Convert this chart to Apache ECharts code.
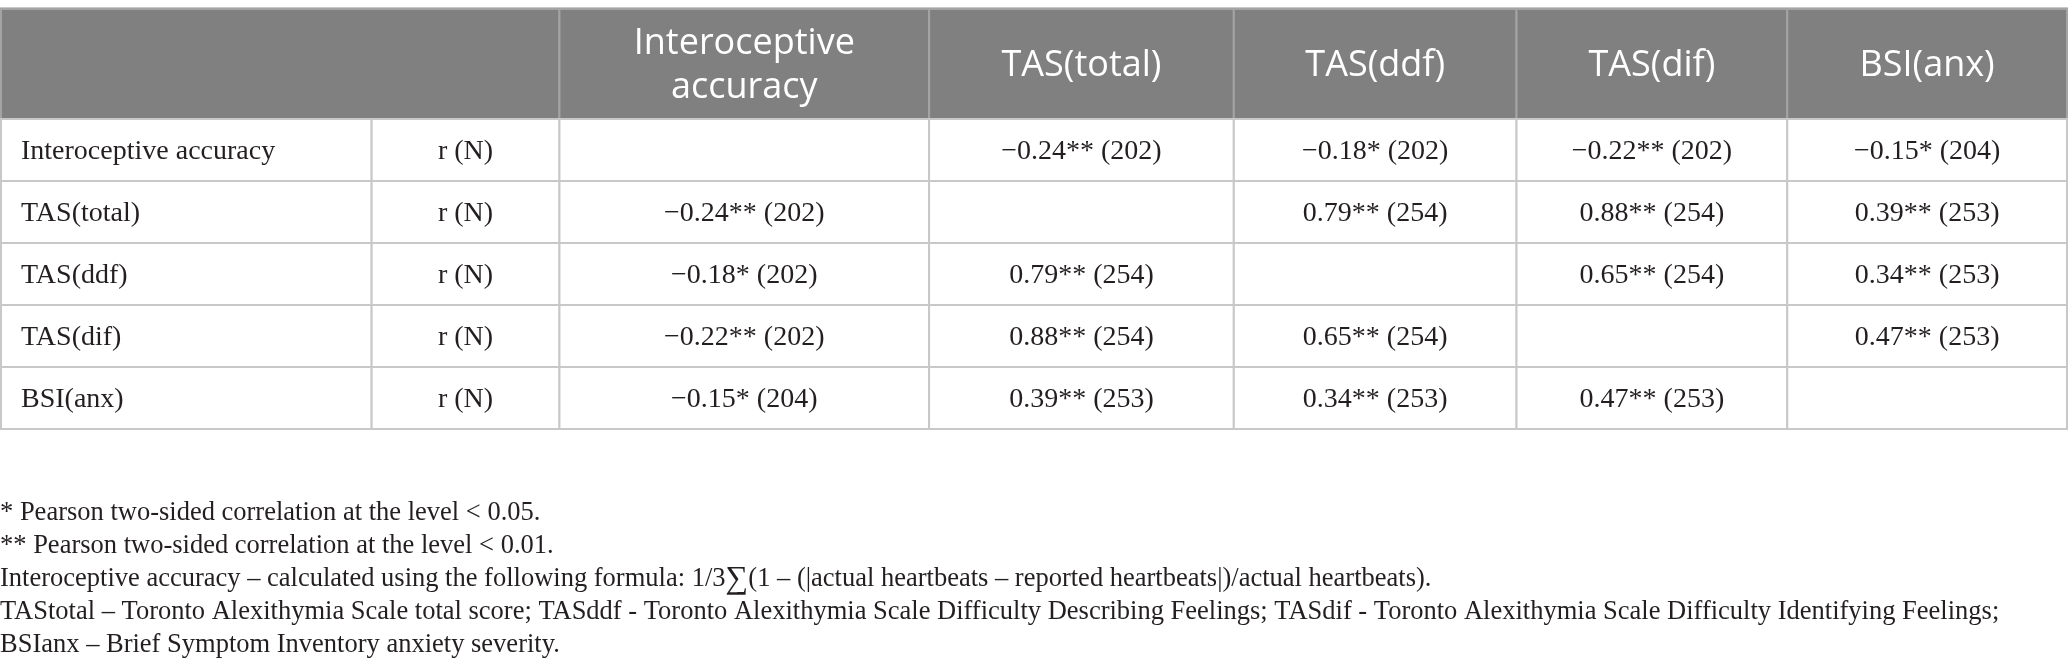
<!DOCTYPE html>
<html>
<head>
<meta charset="utf-8">
<title>Correlation table</title>
<script src="https://cdn.jsdelivr.net/npm/echarts@6/dist/echarts.min.js"></script>
<style>
    html, body { margin: 0; padding: 0; background: #fff; }
    #main { width: 2068px; height: 660px; }
</style>
</head>
<body>
<div id="main"></div>
<script>
// variables in the rows / columns
var variables = ['Interoceptive accuracy', 'TAS(total)', 'TAS(ddf)', 'TAS(dif)', 'BSI(anx)'];
var headerLabels = ['Interoceptive\naccuracy', 'TAS(total)', 'TAS(ddf)', 'TAS(dif)', 'BSI(anx)'];
var statLabel = 'r (N)';

// r values (null on the diagonal)
var rValues = [
    [null, -0.24, -0.18, -0.22, -0.15],
    [-0.24, null, 0.79, 0.88, 0.39],
    [-0.18, 0.79, null, 0.65, 0.34],
    [-0.22, 0.88, 0.65, null, 0.47],
    [-0.15, 0.39, 0.34, 0.47, null]
];
// N
var nValues = [
    [null, 202, 202, 202, 204],
    [202, null, 254, 254, 253],
    [202, 254, null, 254, 253],
    [202, 254, 254, null, 253],
    [204, 253, 253, 253, null]
];
// number of stars (1 = p<0.05, 2 = p<0.01)
var sigStars = [
    [0, 2, 1, 2, 1],
    [2, 0, 2, 2, 2],
    [1, 2, 0, 2, 2],
    [2, 2, 2, 0, 2],
    [1, 2, 2, 2, 0]
];

var footnotes = [
    '* Pearson two-sided correlation at the level < 0.05.',
    '** Pearson two-sided correlation at the level < 0.01.',
    'Interoceptive accuracy \u2013 calculated using the following formula: 1/3{sum|\u2211}(1 \u2013 (|actual heartbeats \u2013 reported heartbeats|)/actual heartbeats).',
    'TAStotal \u2013 Toronto Alexithymia Scale total score; TASddf - Toronto Alexithymia Scale Difficulty Describing Feelings; TASdif - Toronto Alexithymia Scale Difficulty Identifying Feelings;',
    'BSIanx \u2013 Brief Symptom Inventory anxiety severity.'
];

// layout
var colWidths = [371, 188, 370, 305, 283, 271, 280];
var colEdges = [0];
colWidths.forEach(function (w, i) { colEdges.push(colEdges[i] + w); });
var totalWidth = colEdges[colEdges.length - 1];

var serif = '"Liberation Serif", "DejaVu Serif", serif';
var sans = '"Open Sans", "Noto Sans", sans-serif';

function fmtCell(r, c) {
    var v = rValues[r][c];
    if (v === null) return '';
    var s = Math.abs(v).toFixed(2);
    if (v < 0) s = '\u2212' + s;
    return s + '**'.slice(0, sigStars[r][c]) + ' (' + nValues[r][c] + ')';
}

// header cells: first two columns merged
var headerData = [[colEdges[0], colEdges[2], 0]];
var headerTexts = [''];
headerLabels.forEach(function (h, i) {
    headerData.push([colEdges[i + 2], colEdges[i + 3], 0]);
    headerTexts.push(h);
});

// body cells
var bodyData = [];
var bodyTexts = [];
var bodyAlign = [];
variables.forEach(function (name, r) {
    bodyData.push([colEdges[0], colEdges[1], r]);
    bodyTexts.push(name);
    bodyAlign.push('left');
    bodyData.push([colEdges[1], colEdges[2], r]);
    bodyTexts.push(statLabel);
    bodyAlign.push('center');
    for (var c = 0; c < variables.length; c++) {
        bodyData.push([colEdges[c + 2], colEdges[c + 3], r]);
        bodyTexts.push(fmtCell(r, c));
        bodyAlign.push('center');
    }
});

function cellRenderer(texts, aligns, isHeader) {
    return function (params, api) {
        var y = api.value(2);
        var p0 = api.coord([api.value(0), y]);
        var p1 = api.coord([api.value(1), y]);
        var h = api.size([0, 1])[1];
        var top = p0[1] - h / 2;
        var align = aligns ? aligns[params.dataIndex] : 'center';
        var tx = align === 'left' ? p0[0] + 20 : (p0[0] + p1[0]) / 2;
        return {
            type: 'group',
            children: [
                {
                    type: 'rect',
                    shape: { x: p0[0], y: top, width: p1[0] - p0[0], height: h },
                    style: {
                        fill: isHeader ? '#808080' : '#fff',
                        stroke: isHeader ? '#a4a4a4' : '#c8c8c8',
                        lineWidth: 2
                    }
                },
                {
                    type: 'text',
                    style: {
                        text: texts[params.dataIndex],
                        x: tx,
                        y: p0[1] + 2,
                        align: align,
                        verticalAlign: 'middle',
                        fill: isHeader ? '#fff' : '#231f20',
                        fontFamily: isHeader ? sans : serif,
                        fontSize: isHeader ? 36 : 28,
                        lineHeight: isHeader ? 44 : 30
                    }
                }
            ]
        };
    };
}

var myChart = echarts.init(document.getElementById('main'));

var option = {
    animation: false,
    title: {
        left: 0,
        top: 497,
        padding: 0,
        text: footnotes.join('\n'),
        textStyle: {
            fontFamily: serif,
            fontWeight: 'normal',
            fontSize: 26.5,
            lineHeight: 33,
            color: '#231f20',
            rich: {
                sum: { fontFamily: serif, fontSize: 32, lineHeight: 33, color: '#231f20' }
            }
        }
    },
    grid: [
        { left: 1, right: 1, top: 9, height: 110 },
        { left: 1, right: 1, top: 119, height: 310 }
    ],
    xAxis: [
        { type: 'value', gridIndex: 0, min: 0, max: totalWidth, show: false },
        { type: 'value', gridIndex: 1, min: 0, max: totalWidth, show: false }
    ],
    yAxis: [
        { type: 'category', gridIndex: 0, data: ['header'], show: false },
        { type: 'category', gridIndex: 1, data: variables, inverse: true, show: false }
    ],
    series: [
        {
            type: 'custom',
            xAxisIndex: 0,
            yAxisIndex: 0,
            encode: { x: [0, 1], y: 2 },
            renderItem: cellRenderer(headerTexts, null, true),
            data: headerData
        },
        {
            type: 'custom',
            xAxisIndex: 1,
            yAxisIndex: 1,
            encode: { x: [0, 1], y: 2 },
            renderItem: cellRenderer(bodyTexts, bodyAlign, false),
            data: bodyData
        }
    ],
    graphic: [
        {
            type: 'line',
            shape: { x1: 0, y1: 8, x2: 2068, y2: 8 },
            style: { stroke: '#c8c8c8', lineWidth: 2 }
        }
    ]
};

myChart.setOption(option);
</script>
</body>
</html>
